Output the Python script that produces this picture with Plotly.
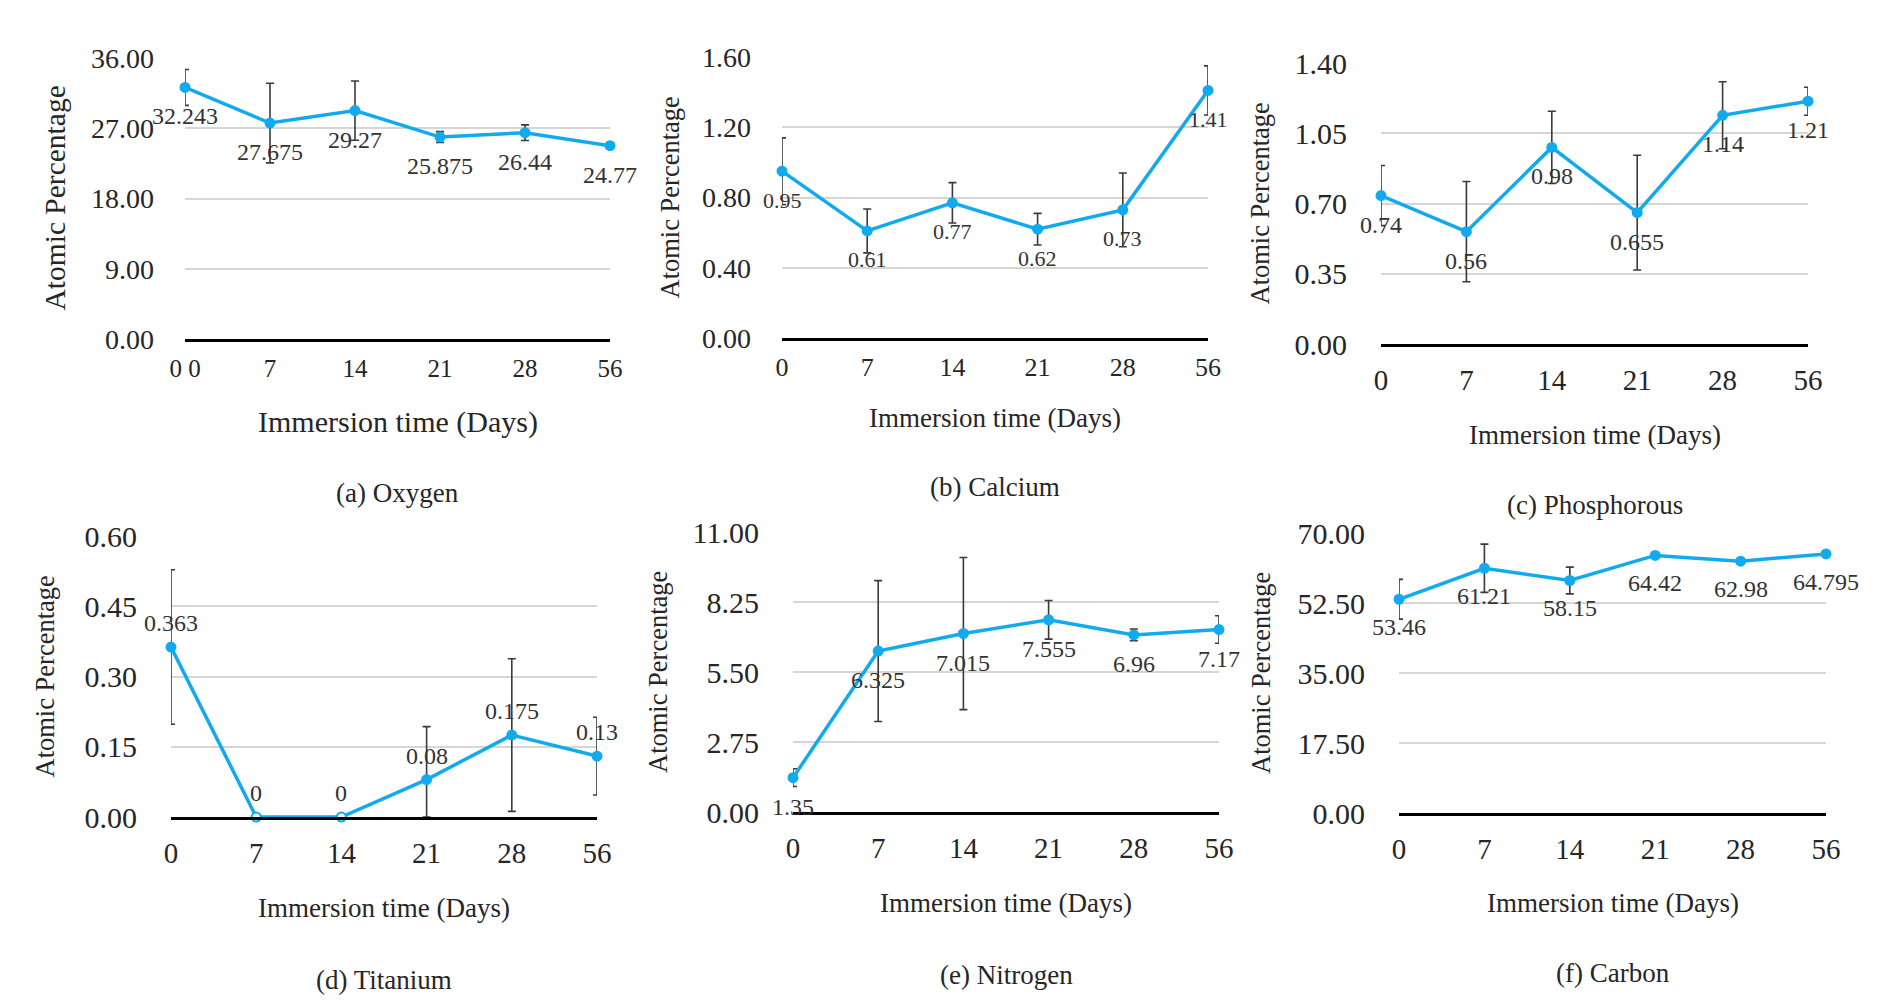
import plotly.graph_objects as go

# page body has an 8px margin; figure is sized so the page fills the window
OFF = 8
W, H = 1886 - 2 * OFF, 1007 - 2 * OFF

days = ["0", "7", "14", "21", "28", "56"]
day_labels_a = ["0 0", "7", "14", "21", "28", "56"]

oxygen = [32.243, 27.675, 29.27, 25.875, 26.44, 24.77]
oxygen_err = [2.3, 5.1, 3.8, 0.7, 1.0, 0.2]
calcium = [0.95, 0.61, 0.77, 0.62, 0.73, 1.41]
calcium_err = [0.19, 0.125, 0.115, 0.09, 0.21, 0.14]
phosphorous = [0.74, 0.56, 0.98, 0.655, 1.14, 1.21]
phosphorous_err = [0.15, 0.25, 0.18, 0.286, 0.167, 0.07]
titanium = [0.363, 0, 0, 0.08, 0.175, 0.13]
titanium_err = [0.165, 0, 0, 0.113, 0.163, 0.083]
nitrogen = [1.35, 6.325, 7.015, 7.555, 6.96, 7.17]
nitrogen_err = [0.35, 2.77, 2.99, 0.76, 0.23, 0.54]
carbon = [53.46, 61.21, 58.15, 64.42, 62.98, 64.795]
carbon_err = [4.96, 6.04, 3.35, 0.7, 0.5, 0.3]

ticks_oxygen = [0, 9, 18, 27, 36]
ticks_calcium = [0, 0.4, 0.8, 1.2, 1.6]
ticks_phosphorous = [0, 0.35, 0.7, 1.05, 1.4]
ticks_titanium = [0, 0.15, 0.3, 0.45, 0.6]
ticks_nitrogen = [0, 2.75, 5.5, 8.25, 11]
ticks_carbon = [0, 17.5, 35, 52.5, 70]

captions = ["(a) Oxygen", "(b) Calcium", "(c) Phosphorous",
            "(d) Titanium", "(e) Nitrogen", "(f) Carbon"]
x_title = "Immersion time (Days)"
y_title = "Atomic Percentage"

FONT = "Liberation Serif"
LINE = "#12AAEE"
ERR = "#3a3a3a"
TXT = "#262626"

panels = [
    dict(v=oxygen, e=oxygen_err, t=ticks_oxygen, xl=day_labels_a,
         px=(185, 610), py=(58, 339), tfs=28, xfs=25, lfs=24, loff=-29,
         tt=30, yt=29.5, ytx=54, xty=422, cy=493, xstand=5, ystand=30),
    dict(v=calcium, e=calcium_err, t=ticks_calcium, xl=days,
         px=(782, 1208), py=(57, 338), tfs=28, xfs=26, lfs=22, loff=-29,
         tt=27, yt=26.5, ytx=670, xty=418, cy=487, xstand=4, ystand=30),
    dict(v=phosphorous, e=phosphorous_err, t=ticks_phosphorous, xl=days,
         px=(1381, 1808), py=(63, 344), tfs=30, xfs=29, lfs=24, loff=-29,
         tt=27, yt=26.5, ytx=1260, xty=435, cy=505, xstand=8, ystand=33),
    dict(v=titanium, e=titanium_err, t=ticks_titanium, xl=days,
         px=(171, 597), py=(536, 817), tfs=30, xfs=29, lfs=24, loff=24,
         tt=27, yt=26.5, ytx=44, xty=908, cy=980, xstand=8, ystand=33),
    dict(v=nitrogen, e=nitrogen_err, t=ticks_nitrogen, xl=days,
         px=(793, 1219), py=(532, 812), tfs=30, xfs=29, lfs=24, loff=-29,
         tt=27, yt=26.5, ytx=658, xty=903, cy=975, xstand=8, ystand=33),
    dict(v=carbon, e=carbon_err, t=ticks_carbon, xl=days,
         px=(1399, 1826), py=(533, 813), tfs=30, xfs=29, lfs=24, loff=-28,
         tt=27, yt=26.5, ytx=1261, xty=903, cy=973, xstand=8, ystand=33),
]


def fx(px):
    return (px - OFF) / W


def fy(py):
    return 1 - (py - OFF) / H


fig = go.Figure()
annotations = []
layout = {}

for i, p in enumerate(panels):
    n = i + 1
    xa = "xaxis" if n == 1 else f"xaxis{n}"
    ya = "yaxis" if n == 1 else f"yaxis{n}"
    xr = "x" if n == 1 else f"x{n}"
    yr = "y" if n == 1 else f"y{n}"
    ymax = p["t"][-1]
    err_minus = [min(e, v) for e, v in zip(p["e"], p["v"])]
    fills = ["white" if v == 0 else LINE for v in p["v"]]

    fig.add_trace(go.Scatter(
        x=days, y=p["v"], xaxis=xr, yaxis=yr, mode="lines+markers",
        line=dict(color=LINE, width=3.5),
        marker=dict(color=fills, size=9, line=dict(color=LINE, width=2)),
        error_y=dict(type="data", array=p["e"], arrayminus=err_minus,
                     color=ERR, thickness=1.6, width=4),
        cliponaxis=False, showlegend=False, hoverinfo="skip"))

    layout[xa] = dict(
        domain=[fx(p["px"][0]), fx(p["px"][1])], anchor=yr,
        type="category", automargin=False,
        categoryorder="array", categoryarray=days,
        range=[0, len(days) - 1], showgrid=False, zeroline=False,
        showline=True, linecolor="black", linewidth=3,
        tickvals=days, ticktext=p["xl"], ticks="",
        ticklabelstandoff=p["xstand"],
        tickfont=dict(family=FONT, size=p["xfs"], color=TXT))
    layout[ya] = dict(
        domain=[fy(p["py"][1]), fy(p["py"][0])], anchor=xr,
        range=[0, ymax * 1.0004], automargin=False,
        tickvals=p["t"], ticktext=[f"{t:.2f}" for t in p["t"]],
        showgrid=True, gridcolor="#d6d6d6", gridwidth=2,
        zeroline=False, showline=False, ticks="",
        ticklabelstandoff=p["ystand"],
        tickfont=dict(family=FONT, size=p["tfs"], color=TXT))

    for k, v in enumerate(p["v"]):
        annotations.append(dict(
            x=k, y=v, xref=xr, yref=yr, text=str(v), showarrow=False,
            yshift=p["loff"], xanchor="center", yanchor="middle",
            font=dict(family=FONT, size=p["lfs"], color="#333333")))

    cx = fx((p["px"][0] + p["px"][1]) / 2)
    cyc = fy((p["py"][0] + p["py"][1]) / 2)
    annotations.append(dict(
        x=cx, y=fy(p["xty"]), xref="paper", yref="paper", text=x_title,
        showarrow=False, xanchor="center", yanchor="middle",
        font=dict(family=FONT, size=p["tt"], color=TXT)))
    annotations.append(dict(
        x=fx(p["ytx"]), y=cyc, xref="paper", yref="paper", text=y_title,
        showarrow=False, textangle=-90, xanchor="center", yanchor="middle",
        font=dict(family=FONT, size=p["yt"], color=TXT)))
    annotations.append(dict(
        x=cx, y=fy(p["cy"]), xref="paper", yref="paper", text=captions[i],
        showarrow=False, xanchor="center", yanchor="middle",
        font=dict(family=FONT, size=27, color=TXT)))

fig.update_layout(
    width=W, height=H, autosize=False,
    margin=dict(l=0, r=0, t=0, b=0, pad=0),
    paper_bgcolor="white", plot_bgcolor="white",
    annotations=annotations, **layout)

fig.write_html("out.html")
